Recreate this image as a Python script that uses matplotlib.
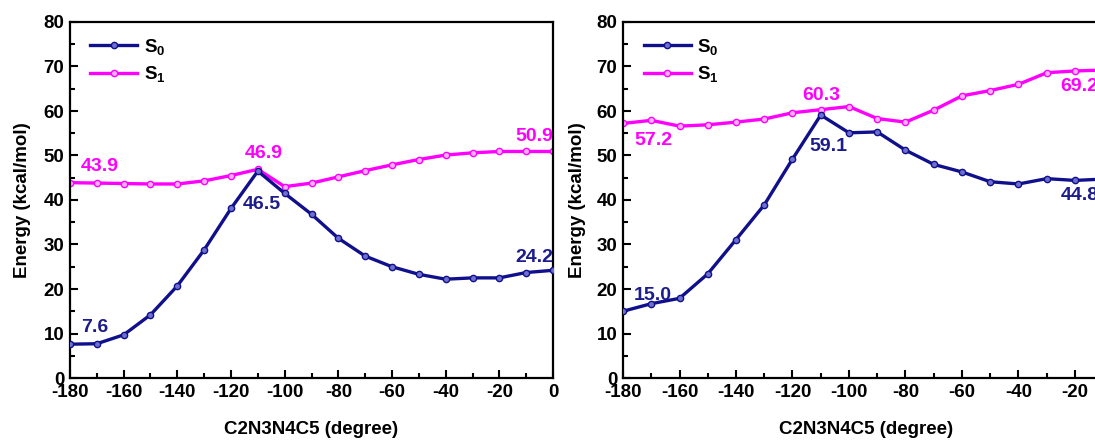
import matplotlib.pyplot as plt
from matplotlib.ticker import MultipleLocator

plt.rcParams['font.family'] = ['Liberation Sans', 'DejaVu Sans']
plt.rcParams['font.weight'] = 'bold'
plt.rcParams['axes.unicode_minus'] = False
plt.rcParams['mathtext.fontset'] = 'custom'
plt.rcParams['mathtext.rm'] = 'Liberation Sans:bold'
plt.rcParams['mathtext.it'] = 'Liberation Sans:bold'
plt.rcParams['mathtext.bf'] = 'Liberation Sans:bold'

angles = [-180, -170, -160, -150, -140, -130, -120, -110, -100, -90,
          -80, -70, -60, -50, -40, -30, -20, -10, 0]

# left panel
s0_a = [7.6, 7.7, 9.7, 14.2, 20.7, 28.8, 38.1, 46.5, 41.5, 36.8,
        31.4, 27.4, 25.0, 23.3, 22.2, 22.5, 22.5, 23.7, 24.2]
s1_a = [43.9, 43.8, 43.7, 43.6, 43.6, 44.3, 45.5, 46.9, 43.0, 43.8,
        45.2, 46.6, 47.9, 49.1, 50.1, 50.6, 50.9, 50.9, 50.9]

# right panel
s0_b = [15.0, 16.7, 17.9, 23.4, 31.1, 38.9, 49.2, 59.1, 55.1, 55.3,
        51.2, 48.0, 46.3, 44.1, 43.6, 44.8, 44.4, 44.7, 44.8]
s1_b = [57.2, 57.9, 56.6, 56.9, 57.5, 58.2, 59.6, 60.3, 61.0, 58.3,
        57.5, 60.2, 63.4, 64.6, 66.0, 68.6, 69.0, 69.2, 69.2]

NAVY = '#10108c'
NAVY_TXT = '#1c1c8c'
MAG = '#ff00ff'

# (index, series, dx px, dy px, ha)
notes_a = [(0, 0, 25, 17, 'center'), (0, 1, 30, 16, 'center'),
           (7, 1, 6, 16, 'center'), (7, 0, 4, -33, 'center'),
           (18, 1, 0, 15, 'right'), (18, 0, 0, 13, 'right')]
notes_b = [(0, 0, 30, 16, 'center'), (0, 1, 30, -17, 'center'),
           (7, 1, 1, 14, 'center'), (7, 0, 8, -31, 'center'),
           (18, 1, -71, -16, 'left'), (18, 0, -71, -17, 'left')]


def draw_panel(ax, s0, s1, notes):
    ax.plot(angles, s0, color=NAVY, lw=2.4, marker='o', ms=4.5,
            mfc='#6f6fd0', mec=NAVY, mew=1.0, label='S$_0$', zorder=3)
    ax.plot(angles, s1, color=MAG, lw=2.4, marker='o', ms=4.5,
            mfc='#ffb3ff', mec=MAG, mew=1.0, label='S$_1$', zorder=2)
    ax.set_xlim(-180, 0)
    ax.set_ylim(0, 80)
    ax.xaxis.set_major_locator(MultipleLocator(20))
    ax.xaxis.set_minor_locator(MultipleLocator(10))
    ax.yaxis.set_major_locator(MultipleLocator(10))
    ax.yaxis.set_minor_locator(MultipleLocator(5))
    ax.tick_params(which='both', direction='in', top=False, right=False,
                   labelsize=13.5, width=1.5)
    ax.tick_params(which='major', length=6, pad=4)
    ax.tick_params(which='minor', length=3.5)
    for sp in ax.spines.values():
        sp.set_linewidth(1.6)
    ax.set_ylabel('Energy (kcal/mol)', fontsize=13.5, fontweight='bold')
    ax.set_xlabel('C2N3N4C5 (degree)', fontsize=13.5, fontweight='bold')
    ax.legend(loc='upper left', bbox_to_anchor=(0.015, 0.995), frameon=False,
              fontsize=13.5, handlelength=2.5, handletextpad=0.35,
              labelspacing=0.4, borderaxespad=0.3)
    for i, which, dx, dy, ha in notes:
        ys = s0 if which == 0 else s1
        col = NAVY_TXT if which == 0 else MAG
        ax.annotate(f'{ys[i]:.1f}', (angles[i], ys[i]), xytext=(dx, dy),
                    textcoords='offset pixels', ha=ha, va='center',
                    color=col, fontsize=14, fontweight='bold')


fig = plt.figure(figsize=(10.95, 4.4), dpi=100)
ax1 = fig.add_axes([70 / 1095, 62 / 440, 483 / 1095, 356 / 440])
ax2 = fig.add_axes([623 / 1095, 62 / 440, 508.5 / 1095, 356 / 440])

draw_panel(ax1, s0_a, s1_a, notes_a)
draw_panel(ax2, s0_b, s1_b, notes_b)
ax1.xaxis.set_label_coords(0.5, -0.12)
ax2.xaxis.set_label_coords(0.478, -0.12)
ax1.yaxis.set_label_coords(-0.081, 0.5)
ax2.yaxis.set_label_coords(-0.073, 0.5)

fig.savefig('out.png', dpi=100)
